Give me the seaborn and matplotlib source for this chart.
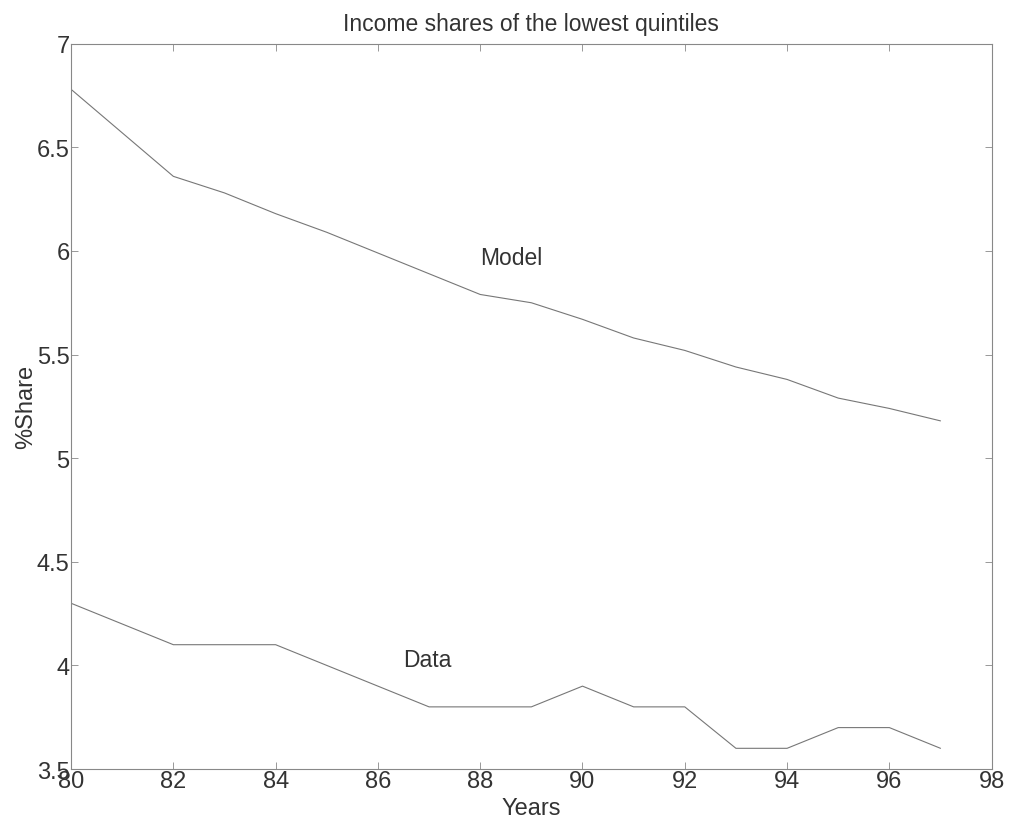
import numpy as np
import pandas as pd
import seaborn as sns
import matplotlib
matplotlib.use("Agg")
from matplotlib import pyplot as plt

# years (no 81 in the series)
years = [80, 82, 83, 84, 85, 86, 87, 88, 89, 90, 91, 92, 93, 94, 95, 96, 97]
model = [6.78, 6.36, 6.28, 6.18, 6.09, 5.99, 5.89, 5.79, 5.75, 5.67, 5.58, 5.52, 5.44, 5.38, 5.29, 5.24, 5.18]
data = [4.3, 4.1, 4.1, 4.1, 4.0, 3.9, 3.8, 3.8, 3.8, 3.9, 3.8, 3.8, 3.6, 3.6, 3.7, 3.7, 3.6]

df = pd.DataFrame({"Years": years, "Model": model, "Data": data})

sns.set_style("white")
plt.rcParams['font.family'] = ['Liberation Sans', 'DejaVu Sans']

fig = plt.figure(figsize=(10.15, 8.28), dpi=100)
ax = fig.add_axes([0.070, 0.070, 0.907, 0.876])

sns.lineplot(data=df, x="Years", y="Model", ax=ax, color="#777777", linewidth=0.8)
sns.lineplot(data=df, x="Years", y="Data", ax=ax, color="#777777", linewidth=0.8)

ax.text(88, 5.97, "Model", fontsize=16.5, va="center", ha="left", color="#333333")
ax.text(86.5, 4.03, "Data", fontsize=16.5, va="center", ha="left", color="#333333")

ax.set_xlim(80, 98)
ax.set_ylim(3.5, 7)
ax.set_xticks(np.arange(80, 99, 2))
ax.set_yticks(np.arange(3.5, 7.01, 0.5))
ax.set_yticklabels(["3.5", "4", "4.5", "5", "5.5", "6", "6.5", "7"])
ax.tick_params(direction="in", length=5, width=0.6, color="#888888",
               labelsize=17, labelcolor="#333333", top=True, right=True,
               bottom=True, left=True, pad=1)
for s in ax.spines.values():
    s.set_color("#888888")
    s.set_linewidth(0.8)

ax.set_title("Income shares of the lowest quintiles", fontsize=16.5, color="#333333", pad=10)
ax.set_xlabel("Years", fontsize=17, color="#333333", labelpad=3)
ax.set_ylabel("%Share", fontsize=17, color="#333333", labelpad=0)

fig.savefig("out.png", dpi=100)
